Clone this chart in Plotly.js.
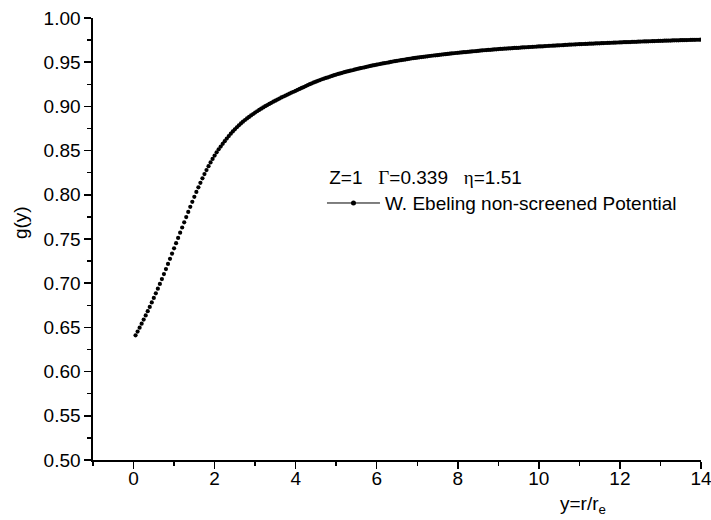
<!DOCTYPE html>
<html>
<head>
<meta charset="utf-8">
<script src="https://cdn.plot.ly/plotly-3.0.1.min.js"></script>
<style>html,body{margin:0;padding:0;background:#fff;}#chart{width:711px;height:520px;}</style>
</head>
<body>
<div id="chart"></div>
<script>
// y = r / r_e  (one row per unit of y)
const yRatio = [
  0.05,0.10,0.15,0.20,0.25,0.30,0.35,0.40,0.45,0.50,0.55,0.60,0.65,0.70,0.75,0.80,0.85,0.90,0.95,1.00,
  1.05,1.10,1.15,1.20,1.25,1.30,1.35,1.40,1.45,1.50,1.55,1.60,1.65,1.70,1.75,1.80,1.85,1.90,1.95,2.00,
  2.05,2.10,2.15,2.20,2.25,2.30,2.35,2.40,2.45,2.50,2.55,2.60,2.65,2.70,2.75,2.80,2.85,2.90,2.95,3.00,
  3.05,3.10,3.15,3.20,3.25,3.30,3.35,3.40,3.45,3.50,3.55,3.60,3.65,3.70,3.75,3.80,3.85,3.90,3.95,4.00,
  4.05,4.10,4.15,4.20,4.25,4.30,4.35,4.40,4.45,4.50,4.55,4.60,4.65,4.70,4.75,4.80,4.85,4.90,4.95,5.00,
  5.05,5.10,5.15,5.20,5.25,5.30,5.35,5.40,5.45,5.50,5.55,5.60,5.65,5.70,5.75,5.80,5.85,5.90,5.95,6.00,
  6.05,6.10,6.15,6.20,6.25,6.30,6.35,6.40,6.45,6.50,6.55,6.60,6.65,6.70,6.75,6.80,6.85,6.90,6.95,7.00,
  7.05,7.10,7.15,7.20,7.25,7.30,7.35,7.40,7.45,7.50,7.55,7.60,7.65,7.70,7.75,7.80,7.85,7.90,7.95,8.00,
  8.05,8.10,8.15,8.20,8.25,8.30,8.35,8.40,8.45,8.50,8.55,8.60,8.65,8.70,8.75,8.80,8.85,8.90,8.95,9.00,
  9.05,9.10,9.15,9.20,9.25,9.30,9.35,9.40,9.45,9.50,9.55,9.60,9.65,9.70,9.75,9.80,9.85,9.90,9.95,10.00,
  10.05,10.10,10.15,10.20,10.25,10.30,10.35,10.40,10.45,10.50,10.55,10.60,10.65,10.70,10.75,10.80,10.85,10.90,10.95,11.00,
  11.05,11.10,11.15,11.20,11.25,11.30,11.35,11.40,11.45,11.50,11.55,11.60,11.65,11.70,11.75,11.80,11.85,11.90,11.95,12.00,
  12.05,12.10,12.15,12.20,12.25,12.30,12.35,12.40,12.45,12.50,12.55,12.60,12.65,12.70,12.75,12.80,12.85,12.90,12.95,13.00,
  13.05,13.10,13.15,13.20,13.25,13.30,13.35,13.40,13.45,13.50,13.55,13.60,13.65,13.70,13.75,13.80,13.85,13.90,13.95,14.00];

// g(y), W. Ebeling non-screened potential
const gValues = [
  0.6410,0.6453,0.6497,0.6542,0.6588,0.6635,0.6683,0.6732,0.6782,0.6833,0.6885,0.6938,0.6992,0.7047,0.7103,0.7160,0.7218,0.7276,0.7335,0.7394,
  0.7453,0.7512,0.7571,0.7630,0.7689,0.7748,0.7806,0.7864,0.7921,0.7977,0.8032,0.8085,0.8136,0.8186,0.8234,0.8280,0.8324,0.8366,0.8406,0.8444,
  0.8480,0.8514,0.8546,0.8577,0.8607,0.8636,0.8664,0.8691,0.8717,0.8741,0.8764,0.8786,0.8807,0.8827,0.8846,0.8864,0.8881,0.8898,0.8914,0.8930,
  0.8945,0.8960,0.8974,0.8988,0.9002,0.9015,0.9028,0.9041,0.9053,0.9065,0.9077,0.9089,0.9101,0.9112,0.9123,0.9134,0.9145,0.9156,0.9166,0.9176,
  0.9188,0.9198,0.9209,0.9219,0.9230,0.9241,0.9251,0.9261,0.9271,0.9280,0.9289,0.9298,0.9307,0.9315,0.9322,0.9329,0.9337,0.9345,0.9353,0.9360,
  0.9367,0.9373,0.9380,0.9387,0.9393,0.9398,0.9404,0.9409,0.9416,0.9422,0.9427,0.9432,0.9437,0.9442,0.9448,0.9453,0.9458,0.9463,0.9468,0.9472,
  0.9477,0.9482,0.9486,0.9490,0.9494,0.9498,0.9503,0.9508,0.9512,0.9515,0.9519,0.9523,0.9527,0.9530,0.9534,0.9538,0.9542,0.9545,0.9548,0.9551,
  0.9555,0.9558,0.9561,0.9564,0.9567,0.9570,0.9573,0.9576,0.9578,0.9580,0.9583,0.9586,0.9589,0.9591,0.9594,0.9596,0.9599,0.9601,0.9604,0.9606,
  0.9609,0.9611,0.9613,0.9615,0.9617,0.9619,0.9622,0.9624,0.9626,0.9628,0.9631,0.9633,0.9635,0.9637,0.9639,0.9640,0.9642,0.9644,0.9646,0.9648,
  0.9650,0.9651,0.9653,0.9654,0.9656,0.9657,0.9659,0.9661,0.9662,0.9663,0.9665,0.9667,0.9668,0.9669,0.9671,0.9672,0.9674,0.9675,0.9677,0.9678,
  0.9679,0.9680,0.9682,0.9683,0.9685,0.9686,0.9687,0.9688,0.9690,0.9691,0.9692,0.9693,0.9695,0.9696,0.9698,0.9699,0.9700,0.9701,0.9703,0.9704,
  0.9705,0.9706,0.9707,0.9708,0.9709,0.9710,0.9711,0.9712,0.9713,0.9714,0.9715,0.9716,0.9717,0.9718,0.9719,0.9720,0.9721,0.9722,0.9723,0.9724,
  0.9725,0.9726,0.9727,0.9728,0.9728,0.9729,0.9730,0.9731,0.9732,0.9733,0.9734,0.9735,0.9735,0.9736,0.9737,0.9738,0.9739,0.9740,0.9741,0.9742,
  0.9742,0.9743,0.9744,0.9745,0.9745,0.9746,0.9747,0.9748,0.9748,0.9749,0.9749,0.9750,0.9750,0.9751,0.9752,0.9753,0.9753,0.9754,0.9754,0.9755];

const seriesName = 'W. Ebeling non-screened Potential';
const legendHeading = '\u00a0Z=1\u00a0\u00a0\u00a0<span style="font-family:Liberation Serif">\u0393</span>=0.339\u00a0\u00a0\u00a0<span style="font-family:Liberation Serif">\u03b7</span>=1.51';
const xTitle = 'y=r/r<sub>e</sub>';
const yTitle = 'g(y)';

const FONT = 'Liberation Sans, Arial, sans-serif';

const traces = [
  {x: yRatio, y: gValues, type: 'scatter', mode: 'markers',
   marker: {color: '#000', size: 4.2}, showlegend: false, hoverinfo: 'skip'},
  {x: [null], y: [null], type: 'scatter', mode: 'lines+markers', name: seriesName,
   line: {color: '#000', width: 1}, marker: {color: '#000', size: 5}}
];

const axisCommon = {
  showline: true, linecolor: '#000', linewidth: 1.6,
  ticks: 'outside', ticklen: 7, tickwidth: 1.5, tickcolor: '#000',
  showgrid: false, zeroline: false, mirror: false,
  ticklabeloverflow: 'allow',
  tickfont: {family: FONT, size: 19, color: '#000'}
};

const layout = {
  width: 711, height: 520,
  margin: {l: 93, r: 10, t: 18, b: 60},
  paper_bgcolor: '#fff', plot_bgcolor: '#fff',
  font: {family: FONT, color: '#000'},
  xaxis: Object.assign({}, axisCommon, {
    range: [-1, 14], tick0: 0, dtick: 2, ticklabelstandoff: -6,
    minor: {dtick: 1, ticks: 'outside', ticklen: 4, tickwidth: 1.5, tickcolor: '#000', showgrid: false}
  }),
  yaxis: Object.assign({}, axisCommon, {
    range: [0.5, 1.0], tick0: 0.5, dtick: 0.05, tickformat: '.2f',
    minor: {dtick: 0.025, ticks: 'outside', ticklen: 4, tickwidth: 1.5, tickcolor: '#000', showgrid: false}
  }),
  legend: {
    x: 0.3766, y: 0.68, xanchor: 'left', yanchor: 'top',
    bgcolor: 'rgba(0,0,0,0)', borderwidth: 0, itemwidth: 53,
    font: {family: FONT, size: 19, color: '#000'},
    title: {text: legendHeading, font: {family: FONT, size: 19, color: '#000'}}
  },
  annotations: [
    {text: xTitle, xref: 'paper', yref: 'paper', x: 0.806, y: 0, xanchor: 'center', yanchor: 'middle',
     yshift: -45, showarrow: false, font: {family: FONT, size: 19, color: '#000'}},
    {text: yTitle, xref: 'paper', yref: 'paper', x: 0, y: 0.536, xanchor: 'center', yanchor: 'middle',
     xshift: -73, textangle: -90, showarrow: false, font: {family: FONT, size: 19, color: '#000'}}
  ]
};

Plotly.newPlot('chart', traces, layout, {staticPlot: true, displayModeBar: false});
</script>
</body>
</html>
